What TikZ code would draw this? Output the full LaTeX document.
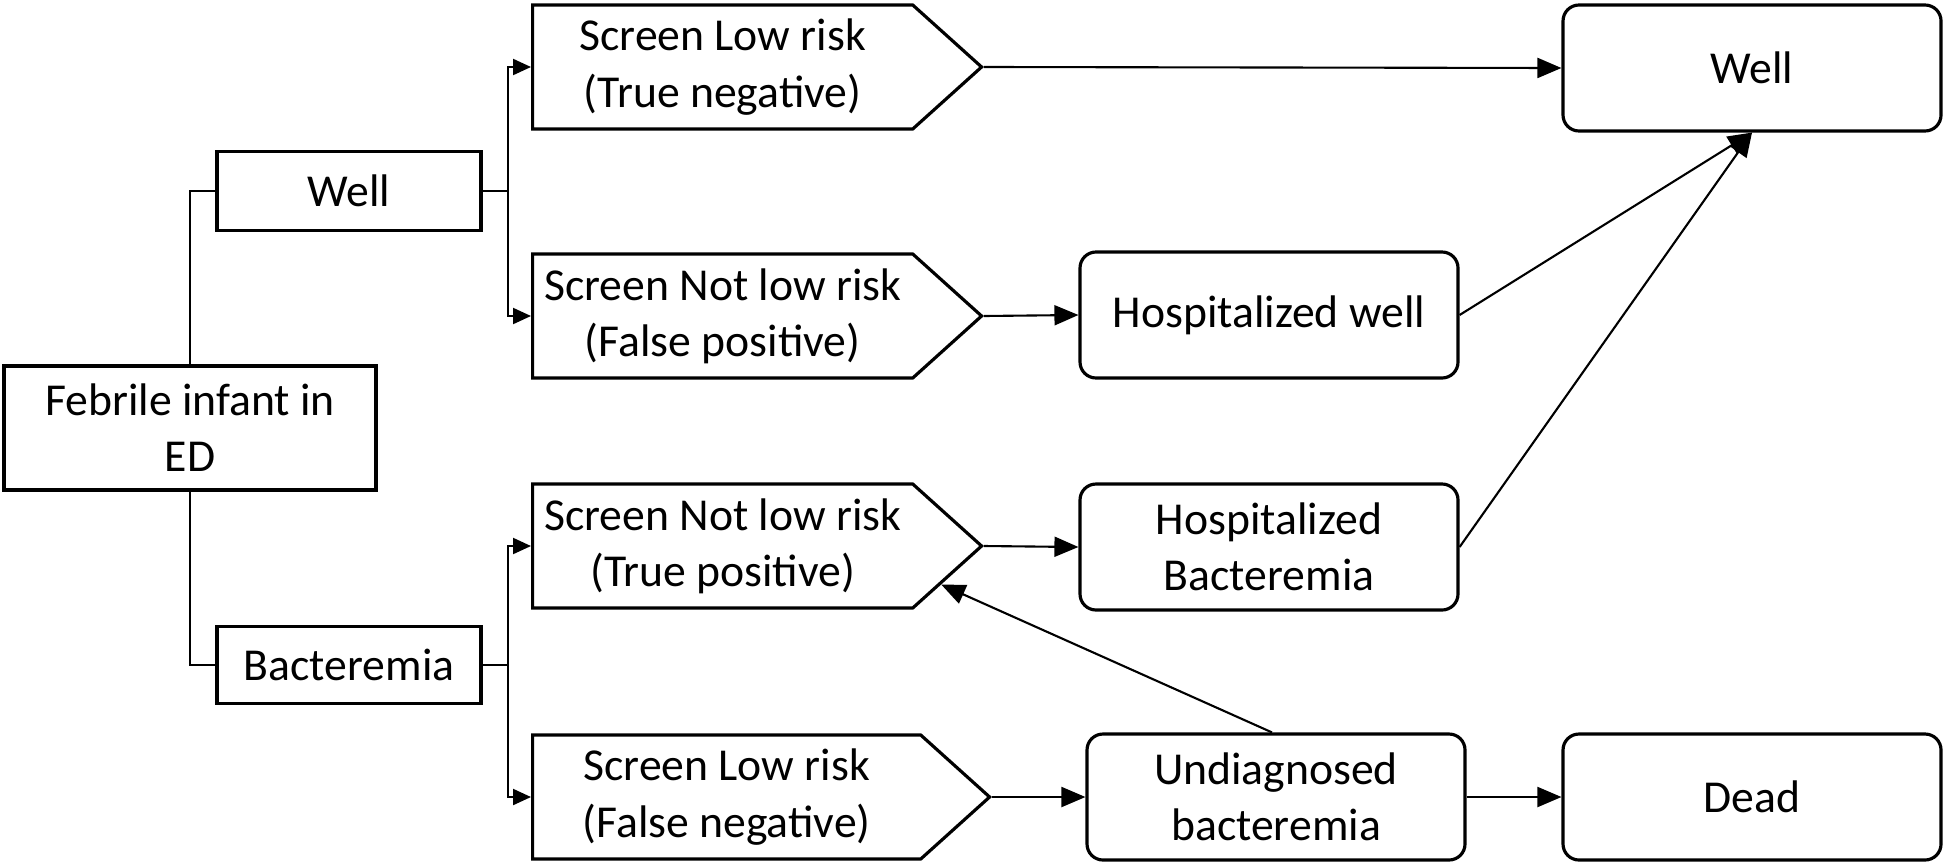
\documentclass[tikz,border=0pt]{standalone}
\usepackage{fontspec}
\setmainfont{Carlito}
\usepackage{tikz}
\usetikzlibrary{arrows.meta,
                shapes.symbols
            }

\tikzset{
  box/.style={draw, line width=0.9pt, align=center, inner sep=2pt,
              font=\fontsize{13}{16}\selectfont},
  plainbox/.style={box, rectangle},
  roundbox/.style={box, rounded corners=1.6mm, minimum width=3.78cm, minimum height=1.26cm},
  screen/.style={box, signal, signal to=east, signal from=nowhere,
                 signal pointer angle=84, minimum width=4.49cm, minimum height=1.24cm, anchor=west},
  link/.style={line width=0.6pt, -{Triangle[length=2.4mm, width=2mm]}},
  branch/.style={line width=0.6pt, -{Triangle[length=1.8mm, width=1.6mm]}}
}

\begin{document}
\begin{tikzpicture}
            \useasboundingbox (0, 0) rectangle (19.44, 8.65);
            % start and the two true states
            \node[plainbox, minimum width=3.72cm, minimum height=1.24cm] (fi) at (1.90, 4.37) {Febrile infant in\\ED};
            \node[plainbox, minimum width=2.64cm, minimum height=0.79cm] (wl) at (3.49, 6.74) {Well};
            \node[plainbox, minimum width=2.64cm, minimum height=0.77cm] (bc) at (3.49, 2.00) {Bacteremia};
            % screening results
            \node[screen] (tn) at (5.31, 7.98) {Screen Low risk\\(True negative)};
            \node[screen] (fp) at (5.31, 5.49) {Screen Not low risk\\(False positive)};
            \node[screen] (tp) at (5.31, 3.19) {Screen Not low risk\\(True positive)};
            \node[screen, minimum width=4.57cm] (fn) at (5.31, 0.68) {Screen Low risk\\(False negative)};
            % outcomes
            \node[roundbox] (well) at (17.52, 7.97) {Well};
            \node[roundbox] (hw) at (12.69, 5.50) {Hospitalized well};
            \node[roundbox] (hb) at (12.69, 3.18) {Hospitalized\\Bacteremia};
            \node[roundbox] (ud) at (12.76, 0.68) {Undiagnosed\\bacteremia};
            \node[roundbox] (dead) at (17.52, 0.68) {Dead};
            \draw[line width=0.6pt] (fi.north) |- (wl.west);
            \draw[line width=0.6pt] (fi.south) |- (bc.west);
            \draw[branch] (wl.east) -- ++(0.25, 0) |- (tn.west);
            \draw[branch] (wl.east) -- ++(0.25, 0) |- (fp.west);
            \draw[branch] (bc.east) -- ++(0.25, 0) |- (tp.west);
            \draw[branch] (bc.east) -- ++(0.25, 0) |- (fn.west);
            \draw[link] (tn.east) -- (well.west);
            \draw[link] (fp.east) -- (hw.west);
            \draw[link] (tp.east) -- (hb.west);
            \draw[link] (fn.east) -- (ud.west);
            \draw[link] (ud.east) -- (dead.west);
            \draw[link] (hw.east) -- (well.south);
            \draw[link] (hb.east) -- (well.south);
            \draw[link] ([xshift=-0.04cm]ud.north) -- (tp.-10);
        \end{tikzpicture}
\end{document}
